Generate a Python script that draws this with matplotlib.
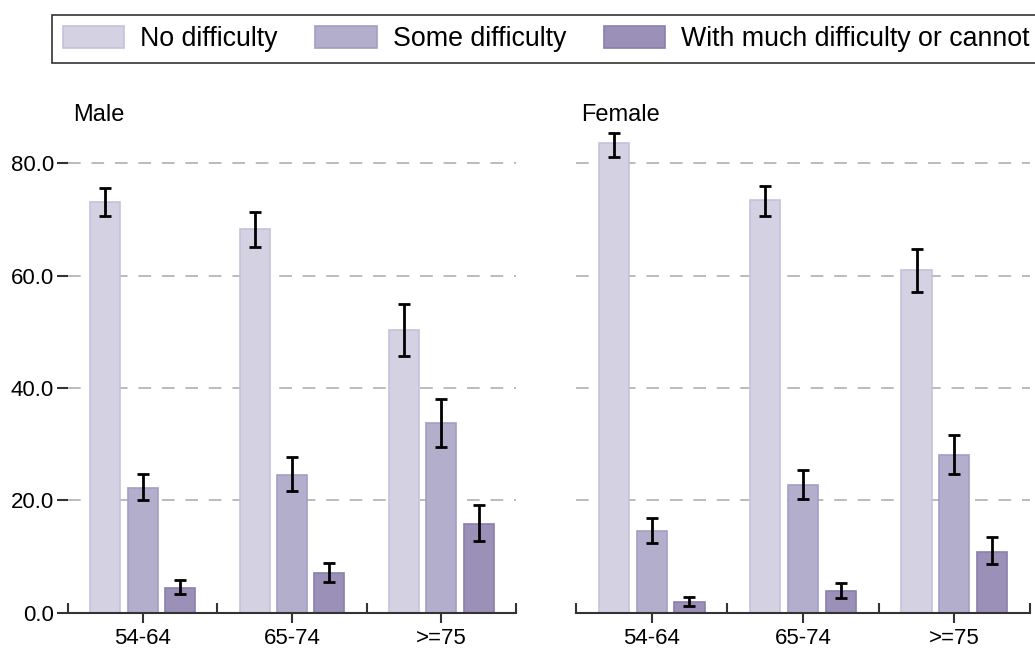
import matplotlib.pyplot as plt
import numpy as np
from matplotlib.patches import Patch
from matplotlib.ticker import FixedLocator

plt.rcParams['font.family'] = ['Liberation Sans', 'DejaVu Sans']

age_groups = ['54-64', '65-74', '>=75']
series_names = ['No difficulty', 'Some difficulty', 'With much difficulty or cannot']

male_values = [[73.1, 68.3, 50.3], [22.2, 24.5, 33.8], [4.4, 7.1, 15.8]]
male_low = [[70.6, 65.1, 45.7], [20.1, 21.7, 29.5], [3.4, 5.5, 12.8]]
male_high = [[75.6, 71.3, 54.9], [24.7, 27.7, 38.0], [5.9, 8.9, 19.2]]

female_values = [[83.5, 73.4, 61.0], [14.6, 22.7, 28.0], [1.9, 3.9, 10.8]]
female_low = [[81.0, 70.5, 57.1], [12.5, 20.2, 24.7], [1.2, 2.6, 8.7]]
female_high = [[85.3, 76.0, 64.7], [16.8, 25.4, 31.6], [2.8, 5.3, 13.5]]

colors = ['#d4d1e3', '#b4aecd', '#9a90b8']
edges = ['#c6c1da', '#a59dc4', '#8a7fae']

fig = plt.figure(figsize=(10.35, 6.49), dpi=100)
ax_m = fig.add_axes([0.0657, 0.0555, 0.4329, 0.78])
ax_f = fig.add_axes([0.5565, 0.0555, 0.4387, 0.78])


def draw_panel(ax, values, low, high, show_labels):
    x = np.arange(len(age_groups))
    for i in range(len(series_names)):
        v = np.array(values[i])
        err = [v - np.array(low[i]), np.array(high[i]) - v]
        ax.bar(x + (i - 1) * 0.25, v, width=0.2, color=colors[i], edgecolor=edges[i],
               linewidth=1.2, zorder=2)
        ax.errorbar(x + (i - 1) * 0.25, v, yerr=err, fmt='none', ecolor='black',
                    elinewidth=2, capsize=4.5, capthick=2, zorder=3)
    ax.set_xlim(-0.5, 2.5)
    ax.set_ylim(0, 90)
    ax.set_yticks([0, 20, 40, 60, 80])
    ax.yaxis.grid(True, linestyle=(0, (7, 6)), color='#b5b5b5', linewidth=1.3, zorder=0)
    ax.set_axisbelow(True)
    for s in ['top', 'right', 'left']:
        ax.spines[s].set_visible(False)
    ax.spines['bottom'].set_color('#333333')
    ax.spines['bottom'].set_linewidth(1.5)
    ax.set_xticks(x)
    ax.set_xticklabels(age_groups, fontsize=16)
    ax.xaxis.set_minor_locator(FixedLocator([-0.5, 0.5, 1.5, 2.5]))
    ax.tick_params(axis='x', which='major', direction='out', length=7, width=1.5, color='#333333', pad=4)
    ax.tick_params(axis='x', which='minor', direction='in', length=7, width=1.5, color='#333333')
    if show_labels:
        ax.set_yticklabels(['%.1f' % t for t in [0, 20, 40, 60, 80]], fontsize=16)
        ax.tick_params(axis='y', direction='out', length=8, width=1.5, color='#333333', pad=2)
    else:
        ax.tick_params(axis='y', length=0, labelleft=False)


draw_panel(ax_m, male_values, male_low, male_high, True)
draw_panel(ax_f, female_values, female_low, female_high, False)

fig.text(73 / 1035, 1 - 115 / 649, 'Male', fontsize=17, ha='left', va='center')
fig.text(581 / 1035, 1 - 115 / 649, 'Female', fontsize=17, ha='left', va='center')

handles = [Patch(facecolor=colors[i], edgecolor=edges[i], linewidth=1.2) for i in range(3)]
leg = fig.legend(handles, series_names, loc='upper left', bbox_to_anchor=(52 / 1035, 1 - 15 / 649),
                 ncol=3, fontsize=19.3, frameon=True, fancybox=False, edgecolor='black',
                 handlelength=2.28, handleheight=0.9, handletextpad=0.6, columnspacing=1.42,
                 borderpad=0.4, borderaxespad=0)
leg.get_frame().set_linewidth(1.2)

fig.savefig('out.png', dpi=100)
